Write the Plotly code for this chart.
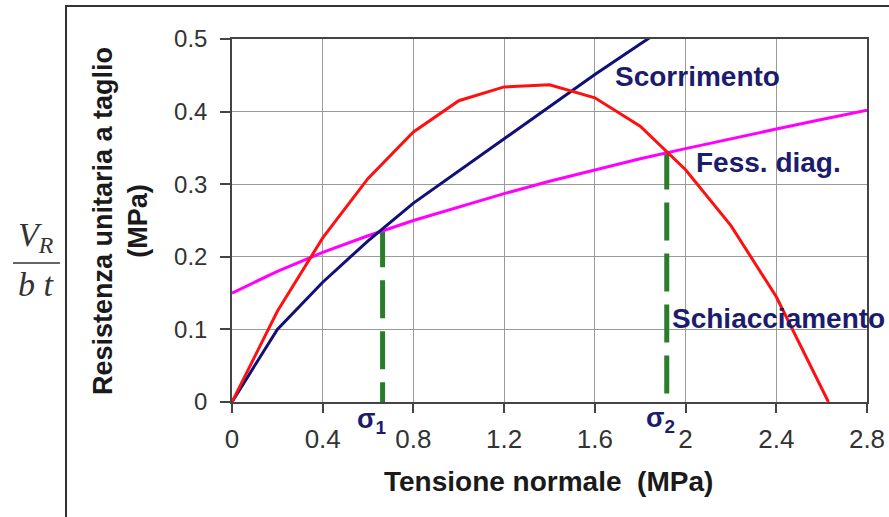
import plotly.graph_objects as go

# ---- data ----
x_vals = [0, 0.2, 0.4, 0.6, 0.8, 1.0, 1.2, 1.4, 1.6, 1.8, 2.0, 2.2, 2.4, 2.6, 2.8]
scorrimento = [0, 0.100, 0.165, 0.222, 0.274, 0.318, 0.362, 0.406, 0.451, 0.493, 0.535]
x_schiacc = [0, 0.2, 0.4, 0.6, 0.8, 1.0, 1.2, 1.4, 1.6, 1.8, 2.0, 2.2, 2.4, 2.6, 2.63]
schiacciamento = [0, 0.125, 0.226, 0.308, 0.372, 0.415, 0.434, 0.437, 0.419, 0.380, 0.320, 0.243, 0.145, 0.020, 0]
fess_diag = [0.150, 0.180, 0.206, 0.229, 0.250, 0.269, 0.287, 0.304, 0.320, 0.335, 0.349, 0.363, 0.376, 0.389, 0.402]
sigma1, tau1 = 0.664, 0.238
sigma2, tau2 = 1.917, 0.345
x_ticks = [0, 0.4, 0.8, 1.2, 1.6, 2.0, 2.4, 2.8]
x_ticklabels = ["0", "0.4", "0.8", "1.2", "1.6", "2", "2.4", "2.8"]
y_ticks = [0, 0.1, 0.2, 0.3, 0.4, 0.5]
y_ticklabels = ["0", "0.1", "0.2", "0.3", "0.4", "0.5"]

W, H = 889, 517
L, R, T, B = 232, 22, 39, 115
PW, PH = W - L - R, H - T - B


def px(xp):
    return (xp - L) / PW


def py(yp):
    return (H - B - yp) / PH


NAVY = "#1c1c6e"
GREEN = "#2a7d2a"
SANS = "Liberation Sans, Arial, sans-serif"
SERIF = "Liberation Serif, Times New Roman, serif"

fig = go.Figure()

dash = "38px,13px"
fig.add_trace(go.Scatter(x=[sigma1, sigma1], y=[tau1, 0], mode="lines",
                         line=dict(color=GREEN, width=5, dash=dash), showlegend=False))
fig.add_trace(go.Scatter(x=[sigma2, sigma2], y=[tau2, 0], mode="lines",
                         line=dict(color=GREEN, width=5, dash=dash), showlegend=False))
fig.add_trace(go.Scatter(x=x_vals, y=fess_diag, mode="lines", name="Fess. diag.",
                         line=dict(color="#ff00ff", width=3), showlegend=False))
fig.add_trace(go.Scatter(x=x_vals[:len(scorrimento)], y=scorrimento, mode="lines", name="Scorrimento",
                         line=dict(color="#101078", width=3), showlegend=False))
fig.add_trace(go.Scatter(x=x_schiacc, y=schiacciamento, mode="lines", name="Schiacciamento",
                         line=dict(color="#ff1010", width=3), showlegend=False))

ann_font = dict(family=SANS, size=28, color=NAVY)
annotations = [
    dict(x=px(613), y=py(77), xref="paper", yref="paper", text="<b>Scorrimento</b>",
         showarrow=False, xanchor="left", yanchor="middle", font=ann_font),
    dict(x=px(694), y=py(162), xref="paper", yref="paper", text="<b>Fess. diag.</b>",
         showarrow=False, xanchor="left", yanchor="middle", font=ann_font),
    dict(x=px(670), y=py(318), xref="paper", yref="paper", text="<b>Schiacciamento</b>",
         showarrow=False, xanchor="left", yanchor="middle", font=ann_font),
    dict(x=sigma1, y=py(421), xref="x", yref="paper", xshift=-11, text="<b>σ<sub>1</sub></b>",
         showarrow=False, xanchor="center", yanchor="middle",
         font=dict(family=SANS, size=27, color=NAVY)),
    dict(x=sigma2, y=py(420), xref="x", yref="paper", xshift=-6, text="<b>σ<sub>2</sub></b>",
         showarrow=False, xanchor="center", yanchor="middle",
         font=dict(family=SANS, size=27, color=NAVY)),
    dict(x=px(548), y=py(481), xref="paper", yref="paper", text="<b>Tensione normale  (MPa)</b>",
         showarrow=False, xanchor="center", yanchor="middle",
         font=dict(family=SANS, size=28, color="#1a1a1a")),
    dict(x=px(121), y=py(221), xref="paper", yref="paper",
         text="<b>Resistenza unitaria a taglio<br>(MPa)</b>", textangle=-90,
         showarrow=False, xanchor="center", yanchor="middle",
         font=dict(family=SANS, size=27, color="#1a1a1a")),
    dict(x=px(36), y=py(237), xref="paper", yref="paper", text="<i>V<sub>R</sub></i>",
         showarrow=False, xanchor="center", yanchor="middle",
         font=dict(family=SERIF, size=34, color="#333333")),
    dict(x=px(36), y=py(284), xref="paper", yref="paper", text="<i>b t</i>",
         showarrow=False, xanchor="center", yanchor="middle",
         font=dict(family=SERIF, size=34, color="#333333")),
]

shapes = [
    dict(type="line", xref="paper", yref="paper", x0=px(13), x1=px(60), y0=py(263), y1=py(263),
         line=dict(color="#333333", width=1.5)),
    dict(type="rect", xref="paper", yref="paper", x0=px(66), x1=px(900), y0=py(530), y1=py(6),
         line=dict(color="#333333", width=2), layer="below"),
]

fig.update_layout(
    width=W, height=H,
    margin=dict(l=L, r=R, t=T, b=B, pad=0, autoexpand=False),
    paper_bgcolor="white", plot_bgcolor="white",
    annotations=annotations, shapes=shapes,
    showlegend=False,
    xaxis=dict(range=[0, 2.8], tickvals=x_ticks, ticktext=x_ticklabels,
               showgrid=True, gridcolor="#9a9a9a", gridwidth=1,
               showline=True, linecolor="#444444", linewidth=1.5, mirror=True,
               ticks="outside", ticklen=9, tickcolor="#444444", tickwidth=1.5,
               zeroline=False, ticklabelstandoff=4, automargin=False,
               tickfont=dict(family=SANS, size=26, color="#333333")),
    yaxis=dict(range=[0, 0.5], tickvals=y_ticks, ticktext=y_ticklabels,
               showgrid=True, gridcolor="#9a9a9a", gridwidth=1,
               showline=True, linecolor="#444444", linewidth=1.5, mirror=True,
               ticks="outside", ticklen=10, tickcolor="#444444", tickwidth=1.5,
               zeroline=False, ticklabelstandoff=8, automargin=False,
               tickfont=dict(family=SANS, size=24, color="#333333")),
)

fig.write_html(
    "out.html",
    config={"displayModeBar": False},
    post_script="document.body.style.margin='0';document.body.style.overflow='hidden';",
)
